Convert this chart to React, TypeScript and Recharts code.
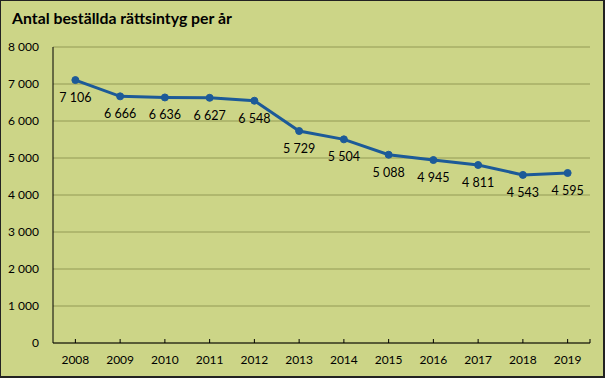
import React from 'react';
import { LineChart, Line, XAxis, YAxis, CartesianGrid, LabelList } from 'recharts';

const years = ['2008', '2009', '2010', '2011', '2012', '2013', '2014', '2015', '2016', '2017', '2018', '2019'];
const counts = [7106, 6666, 6636, 6627, 6548, 5729, 5504, 5088, 4945, 4811, 4543, 4595];
const yTicks = [0, 1000, 2000, 3000, 4000, 5000, 6000, 7000, 8000];
const title = 'Antal beställda rättsintyg per år';

const data = years.map((y, i) => ({ year: y, value: counts[i] }));

const fmt = (v: number) => {
  const s = String(Math.round(v));
  return s.replace(/\B(?=(\d{3})+(?!\d))/g, ' ');
};

const FONT = 'Lato, "Open Sans", sans-serif';
const BAND = (590 - 53) / years.length;

const XTick = (props: any) => {
  const { x, y, payload, index } = props;
  return (
    <g>
      <line x1={x} y1={y} x2={x} y2={y - 4} stroke="#000" strokeWidth={1} />
      {index === years.length - 1 && (
        <line x1={x + BAND / 2} y1={y} x2={x + BAND / 2} y2={y - 4} stroke="#000" strokeWidth={1} />
      )}
      <text x={x} y={y + 21} textAnchor="middle" fill="#000" fontSize={12} fontFamily={FONT}>
        {payload.value}
      </text>
    </g>
  );
};

export default function App() {
  return (
    <div
      style={{
        position: 'absolute',
        left: 0,
        top: 0,
        width: 605,
        height: 378,
        background: '#ccd587',
        boxSizing: 'border-box',
        border: '1px solid #222',
        borderRightWidth: 2,
        borderBottomWidth: 2,
        overflow: 'hidden',
      }}
    >
      <div
        style={{
          position: 'absolute',
          left: 11,
          top: 7,
          fontFamily: FONT,
          fontWeight: 700,
          fontSize: 15.8,
          color: '#000',
          whiteSpace: 'nowrap',
        }}
      >
        {title}
      </div>
      <div style={{ position: 'absolute', left: -1, top: -1 }}>
        <LineChart width={605} height={378} data={data} margin={{ top: 47, right: 15, left: 0, bottom: 0 }}>
          <CartesianGrid vertical={false} stroke="#939a55" strokeWidth={1} />
          <XAxis
            dataKey="year"
            height={35}
            padding={{ left: BAND / 2, right: BAND / 2 }}
            axisLine={{ stroke: '#000', strokeWidth: 1 }}
            tickLine={false}
            tickSize={0}
            tickMargin={0}
            tick={<XTick />}
            interval={0}
          />
          <YAxis
            width={53}
            domain={[0, 8000]}
            ticks={yTicks}
            interval={0}
            axisLine={{ stroke: '#000', strokeWidth: 1 }}
            tickLine={false}
            tickMargin={8}
            tickFormatter={fmt}
            tick={{ fill: '#000', fontSize: 12, fontFamily: FONT }}
          />
          <Line
            type="linear"
            dataKey="value"
            stroke="#1c5a98"
            strokeWidth={3}
            dot={{ r: 3.5, fill: '#1c5a98', stroke: '#1c5a98', strokeWidth: 1 }}
            isAnimationActive={false}
          >
            <LabelList
              dataKey="value"
              position="bottom"
              offset={13}
              formatter={(v: any) => fmt(Number(v))}
              style={{ fill: '#000', fontSize: 12.5, fontFamily: FONT }}
            />
          </Line>
        </LineChart>
      </div>
    </div>
  );
}
